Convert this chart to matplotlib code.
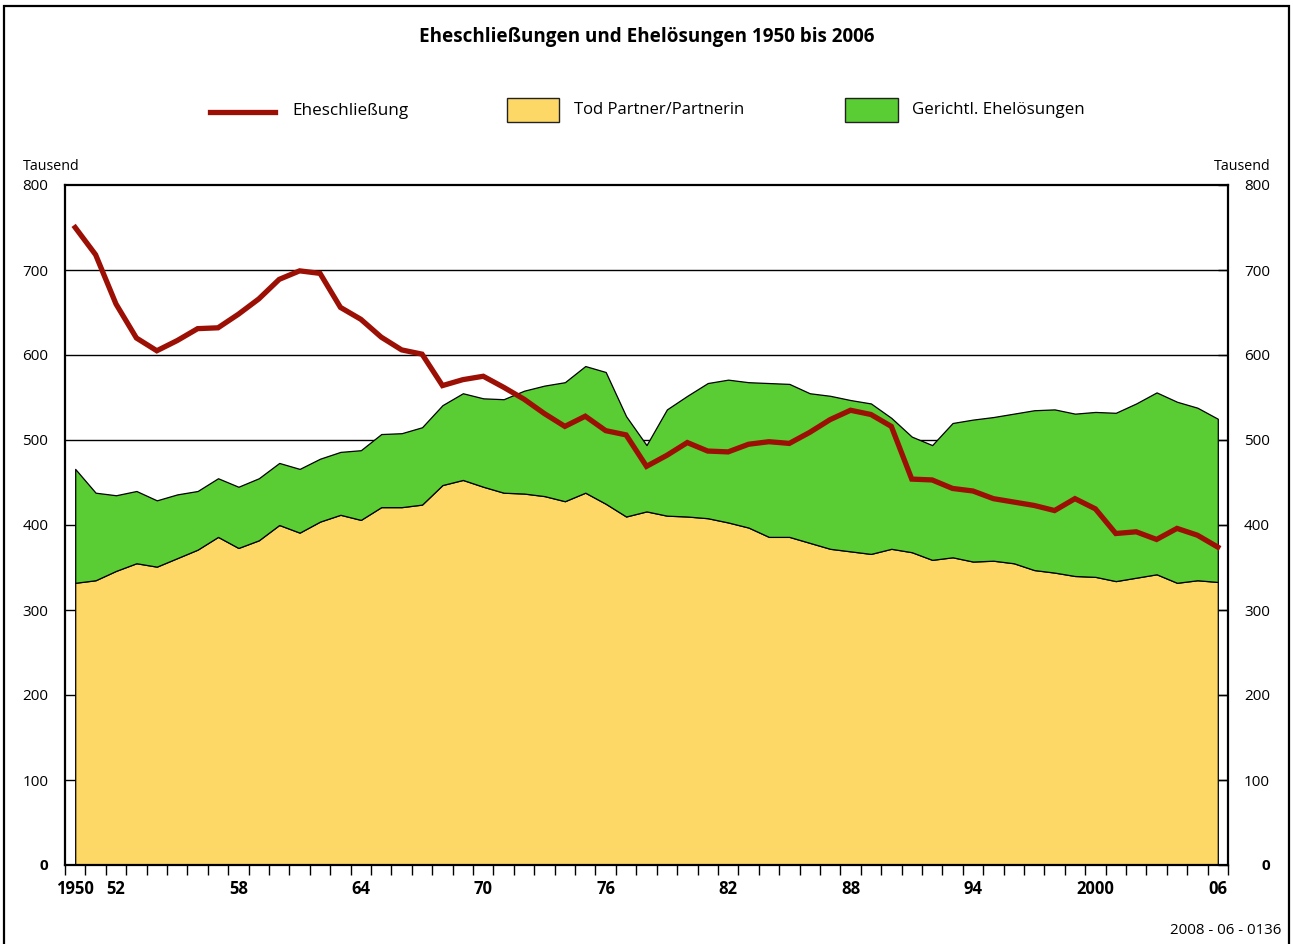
import matplotlib
matplotlib.use("Agg")
import matplotlib.pyplot as plt
import matplotlib.transforms as mtransforms
from matplotlib.patches import Rectangle
from matplotlib.lines import Line2D
import numpy as np

plt.rcParams['font.family'] = ['Open Sans', 'DejaVu Sans']

years = list(range(1950, 2007))

# Eheschließungen (Tausend)
marriages = [750, 718, 660, 620, 605, 617, 631, 632, 648, 666,
             689, 699, 696, 656, 642, 621, 606, 601, 564, 571,
             575, 562, 548, 531, 516, 528, 511, 506, 469, 482,
             497, 487, 486, 495, 498, 496, 509, 524, 535, 530,
             516, 454, 453, 443, 440, 431, 427, 423, 417, 431,
             419, 390, 392, 383, 396, 388, 374]

# Ehelösungen durch Tod Partner/Partnerin (Tausend)
death = [332, 335, 346, 355, 351, 361, 371, 386, 373, 382,
         400, 391, 404, 412, 406, 421, 421, 424, 447, 453,
         445, 438, 437, 434, 428, 438, 425, 410, 416, 411,
         410, 408, 403, 397, 386, 386, 379, 372, 369, 366,
         372, 368, 359, 362, 357, 358, 355, 347, 344, 340,
         339, 334, 338, 342, 332, 335, 333]

# Gerichtliche Ehelösungen (Tausend)
divorce = [134, 103, 89, 85, 78, 75, 69, 69, 72, 73,
           73, 75, 74, 74, 82, 86, 87, 91, 94, 102,
           104, 110, 121, 130, 140, 149, 155, 118, 78, 125,
           142, 159, 168, 171, 181, 180, 176, 180, 178, 177,
           154, 136, 135, 158, 167, 169, 176, 188, 192, 191,
           194, 198, 205, 214, 213, 203, 192]

y_ticks = [0, 100, 200, 300, 400, 500, 600, 700, 800]
x_label_years = [1950, 1952, 1958, 1964, 1970, 1976, 1982, 1988, 1994, 2000, 2006]
x_label_texts = ["1950", "52", "58", "64", "70", "76", "82", "88", "94", "2000", "06"]

title = "Eheschließungen und Ehelösungen 1950 bis 2006"
legend_labels = ["Eheschließung", "Tod Partner/Partnerin", "Gerichtl. Ehelösungen"]

c_line = "#9b0f04"
c_yellow = "#fdd867"
c_green = "#5acc34"

W, H = 1293, 944
fig = plt.figure(figsize=(W / 100, H / 100), dpi=100)

def fx(px):
    return px / W

def fy(py):
    return 1 - py / H

ax = fig.add_axes([fx(65), fy(865), fx(1228) - fx(65), fy(185) - fy(865)])

yrs = np.array(years)
d = np.array(death)
tot = d + np.array(divorce)

ax.set_axisbelow(True)
ax.fill_between(yrs, 0, d, facecolor=c_yellow, edgecolor="black", linewidth=0.9, zorder=2)
ax.fill_between(yrs, d, tot, facecolor=c_green, edgecolor="black", linewidth=0.9, zorder=2)
ax.plot(yrs, marriages, color=c_line, linewidth=3.8, solid_joinstyle="miter", zorder=4)

ax.set_xlim(1949.5, 2006.5)
ax.set_ylim(0, 800)

for v in y_ticks[1:-1]:
    ax.axhline(v, color="black", linewidth=1.0, zorder=1)

for s in ax.spines.values():
    s.set_linewidth(1.6)
    s.set_zorder(5)

# y axis ticks/labels
ax.set_yticks(y_ticks)
ax.tick_params(axis="y", which="major", left=False, right=True, direction="in",
               length=7, width=1.0, labelleft=True, labelright=True, labelsize=11, pad=12)
for t in ax.yaxis.get_major_ticks():
    t.label2.set_horizontalalignment("right")
    t.label2.set_transform(t.label2.get_transform() + mtransforms.ScaledTranslation(42 / 100 - 12 / 72, 0, fig.dpi_scale_trans))
ax.yaxis.get_major_ticks()[0].label1.set_fontweight("bold")
ax.yaxis.get_major_ticks()[0].label2.set_fontweight("bold")

# x axis ticks
ax.set_xticks(x_label_years)
ax.set_xticklabels(x_label_texts, fontweight="bold", fontsize=12)
ax.set_xticks(np.arange(1949.5, 2007, 1.0), minor=True)
ax.tick_params(axis="x", which="major", length=0, pad=11)
ax.tick_params(axis="x", which="minor", direction="out", length=7, width=1.0)

# Texts
fig.text(fx(647), fy(37), title, ha="center", va="center", fontsize=13.6, fontweight="bold")
fig.text(fx(23), fy(166), "Tausend", ha="left", va="center", fontsize=10.3)
fig.text(fx(1271), fy(166), "Tausend", ha="right", va="center", fontsize=10.3)
fig.text(fx(1281), fy(930), "2008 - 06 - 0136", ha="right", va="center", fontsize=10.8)

# Legend
fig.add_artist(Line2D([fx(210), fx(275)], [fy(112), fy(112)], color=c_line, linewidth=3.8))
fig.text(fx(292), fy(111), legend_labels[0], ha="left", va="center", fontsize=12.3)
fig.add_artist(Rectangle((fx(507), fy(122)), fx(559) - fx(507), fy(98) - fy(122),
                         facecolor=c_yellow, edgecolor="#222222", linewidth=1.0, transform=fig.transFigure))
fig.text(fx(574), fy(110), legend_labels[1], ha="left", va="center", fontsize=12.0)
fig.add_artist(Rectangle((fx(845), fy(122)), fx(898) - fx(845), fy(98) - fy(122),
                         facecolor=c_green, edgecolor="#222222", linewidth=1.0, transform=fig.transFigure))
fig.text(fx(912), fy(110), legend_labels[2], ha="left", va="center", fontsize=12.2)

# Outer frame
fig.add_artist(Rectangle((fx(4), fy(950)), fx(1289) - fx(4), fy(6) - fy(950),
                         facecolor="none", edgecolor="black", linewidth=1.6, transform=fig.transFigure))

fig.savefig("out.png", dpi=100)
